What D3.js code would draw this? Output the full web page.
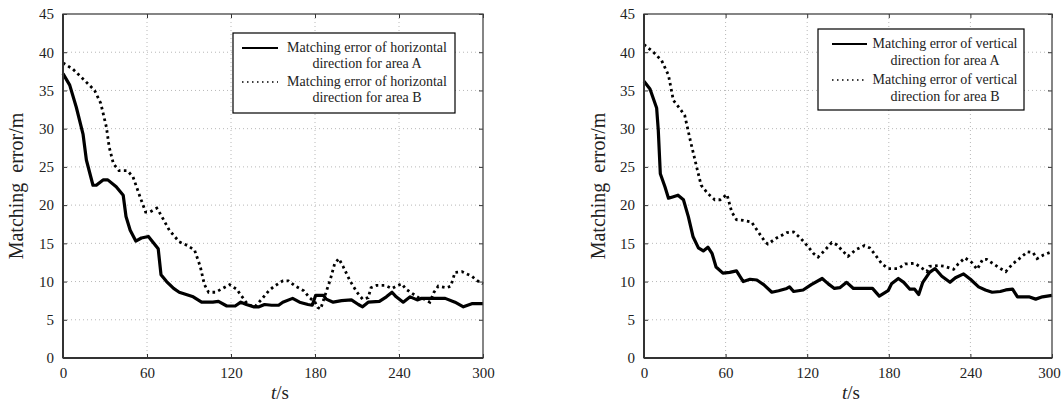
<!DOCTYPE html>
<html>
<head>
<meta charset="utf-8">
<script src="https://cdn.jsdelivr.net/npm/d3@7"></script>
<style>
  body { margin: 0; background: #fff; }
  svg text { font-family: "Liberation Serif", "Times New Roman", Times, serif; fill: #222; }
</style>
</head>
<body>
<div id="chart"></div>
<script>
// tick labels
var xTicks = [0, 60, 120, 180, 240, 300];
var yTicks = [0, 5, 10, 15, 20, 25, 30, 35, 40, 45];

// horizontal error, area A (solid) [t, error]
var horizA = [[0,37.2],[4.8,35.7],[9.5,32.8],[14.3,29.3],[16.7,25.9],[21.4,22.6],[23.8,22.6],[28.6,23.3],[32,23.3],
  [38,22.4],[43,21.3],[45,18.5],[48,16.7],[52,15.3],[56,15.7],[61,15.9],[64,15.2],[68,14.3],[70,10.9],[74,10],
  [79,9.1],[83,8.6],[88,8.3],[93,8.0],[99,7.3],[107,7.3],[111,7.4],[117,6.8],[123,6.8],[127,7.3],[131,7.0],
  [136,6.7],[140,6.7],[144,7.0],[149,6.9],[154,6.9],[157,7.3],[164,7.8],[169,7.3],[175,7.0],[178,6.9],[180.5,8.2],
  [186,8.2],[188,7.7],[193,7.3],[199,7.5],[206,7.6],[211,7.0],[214,6.7],[218,7.3],[226,7.4],[231,8.0],[235,8.6],
  [238,8.0],[243,7.3],[248,8.0],[253,7.6],[256,7.8],[263,7.8],[273,7.8],[280,7.3],[286,6.7],[292,7.1],[300,7.1]];

// horizontal error, area B (dotted)
var horizB = [[0,38.6],[7,37.8],[15.5,36.3],[22.6,35.0],[27,33.3],[31,30.2],[33,27.6],[36,25.4],[40,24.5],[46,24.5],
  [50,23.7],[55,21.1],[59,19.1],[62,19.1],[67,19.6],[70,18.7],[76,16.7],[83,15.2],[89,14.7],[94,14.1],[98,12.0],
  [101,9.6],[104,8.6],[109,8.6],[114,9.1],[119,9.6],[124,9.0],[128,8.0],[132,7.0],[137,6.7],[142,7.7],[147,8.8],
  [151,9.4],[157,10.1],[161,10.1],[166,9.4],[172,8.8],[176,7.9],[180,7.3],[182,6.6],[184,6.4],[187,8.1],[191,10.3],
  [194,12.3],[197,13.0],[200,12.0],[205,10.1],[210,8.6],[214,7.7],[218,7.9],[220,9.2],[224,9.5],[230,9.5],[235,9.1],
  [238,9.4],[242,9.7],[245,9.0],[249,8.5],[254,7.9],[258,7.7],[262,7.3],[265,8.6],[268,9.4],[274,9.2],[277,9.4],
  [280,11.2],[285,11.3],[292,10.7],[296,10.1],[300,9.7]];

// vertical error, area A (solid)
var vertA = [[0,36.2],[4.4,35.2],[9.3,32.7],[10.5,29.8],[12,24.1],[15.4,22.4],[18,20.9],[21.6,21.1],[25,21.3],[29,20.7],
  [32.6,18.5],[36,15.9],[40,14.4],[43.6,14.0],[47,14.5],[50,13.7],[53,11.9],[58,11.1],[63,11.2],[68,11.4],[73,10.0],
  [78,10.3],[83,10.2],[88,9.6],[94,8.6],[99,8.8],[105,9.1],[107,9.3],[110,8.7],[117,8.9],[123,9.6],[131,10.4],
  [135.5,9.7],[140,9.1],[144,9.2],[149,9.9],[154,9.1],[160,9.1],[168,9.1],[173,8.1],[179.5,8.8],[182,9.7],[187,10.4],
  [191,9.9],[195.5,9.0],[199,9.0],[202,8.3],[205,9.9],[210,11.2],[214,11.7],[219,10.7],[225,9.9],[229,10.5],[235,11.0],
  [240,10.3],[246,9.3],[251,8.9],[256,8.6],[262,8.7],[266,8.9],[271,9.0],[274.6,8.0],[283,8.0],[288,7.7],[293,8.0],[300,8.2]];

// vertical error, area B (dotted)
var vertB = [[0,41.0],[7,40.0],[13,38.9],[18,37.0],[21.6,33.7],[26.5,32.6],[30,31.7],[34,28.5],[38.7,25.0],[42,22.6],
  [47,21.5],[52,20.7],[56,20.7],[61,21.4],[64.5,19.1],[68,18.1],[73,18.0],[79,17.8],[84,16.5],[89,15.2],[91,14.9],
  [97.5,15.7],[105,16.4],[110,16.5],[115,15.7],[120,14.7],[124.5,13.7],[128,13.2],[133,14.1],[138,15.1],[142,14.8],
  [145,14.2],[150,13.3],[156,14.2],[162,14.7],[166,14.4],[170,13.5],[175,12.3],[179.5,11.7],[187,11.7],[192,12.3],
  [199,12.4],[204,11.8],[208,11.3],[210,12.0],[216.5,12.1],[221,12.0],[227.6,11.6],[231,12.3],[236,13.1],[241,12.5],
  [245,11.6],[249,12.9],[252,12.9],[257,12.3],[262,11.7],[266,11.3],[271,12.3],[276,13.0],[282,13.9],[286,13.8],
  [289,13.0],[294,13.5],[300,13.9]];

var svg = d3.select("#chart").append("svg")
  .attr("width", 1062)
  .attr("height", 403);

// draw one panel
function drawPanel(p) {
  var x = d3.scaleLinear().domain([0, 300]).range([p.left, p.right]);
  var y = d3.scaleLinear().domain([0, 45]).range([p.bottom, p.top]);
  var g = svg.append("g");

  // dotted grid
  g.selectAll(".gx").data(xTicks.slice(1, -1)).enter().append("line")
    .attr("x1", d => x(d)).attr("x2", d => x(d))
    .attr("y1", p.top).attr("y2", p.bottom)
    .attr("stroke", "#b8b8b8").attr("stroke-width", 1).attr("stroke-dasharray", "1,3");
  g.selectAll(".gy").data(yTicks.slice(1, -1)).enter().append("line")
    .attr("x1", p.left).attr("x2", p.right)
    .attr("y1", d => y(d)).attr("y2", d => y(d))
    .attr("stroke", "#b8b8b8").attr("stroke-width", 1).attr("stroke-dasharray", "1,3");

  // lines
  var line = d3.line().x(d => x(d[0])).y(d => y(d[1])).curve(d3.curveLinear);
  g.append("path").datum(p.b).attr("d", line)
    .attr("fill", "none").attr("stroke", "#000").attr("stroke-width", 2.8)
    .attr("stroke-dasharray", "2.6,3.4");
  g.append("path").datum(p.a).attr("d", line)
    .attr("fill", "none").attr("stroke", "#000").attr("stroke-width", 3.2)
    .attr("stroke-linejoin", "round");

  // axes, ticks pointing inward
  var bottom = g.append("g").attr("transform", "translate(0," + p.bottom + ")")
    .call(d3.axisBottom(x).tickValues(xTicks).tickSizeInner(-4).tickSizeOuter(0).tickPadding(9));
  var left = g.append("g").attr("transform", "translate(" + p.left + ",0)")
    .call(d3.axisLeft(y).tickValues(yTicks).tickSizeInner(-4).tickSizeOuter(0).tickPadding(9));
  var top = g.append("g").attr("transform", "translate(0," + p.top + ")")
    .call(d3.axisTop(x).tickValues(xTicks).tickSizeInner(-4).tickSizeOuter(0).tickFormat(""));
  var right = g.append("g").attr("transform", "translate(" + p.right + ",0)")
    .call(d3.axisRight(y).tickValues(yTicks).tickSizeInner(-4).tickSizeOuter(0).tickFormat(""));
  [bottom, left, top, right].forEach(function(a) {
    a.select(".domain").remove();
    a.selectAll("line").attr("stroke", "#333").attr("stroke-width", 1);
    a.selectAll("text").attr("font-size", 15).attr("fill", "#222");
  });
  // keep the last x label inside the page
  if (p.lastLabelShift) {
    bottom.selectAll(".tick text").filter(d => d === 300).attr("dx", p.lastLabelShift);
  }

  // frame
  g.append("rect")
    .attr("x", p.left).attr("y", p.top)
    .attr("width", p.right - p.left).attr("height", p.bottom - p.top)
    .attr("fill", "none").attr("stroke", "#444").attr("stroke-width", 1.3);
  g.append("line").attr("x1", p.left).attr("x2", p.right).attr("y1", p.bottom).attr("y2", p.bottom)
    .attr("stroke", "#333").attr("stroke-width", 2);
  g.append("line").attr("x1", p.left).attr("x2", p.left).attr("y1", p.top).attr("y2", p.bottom)
    .attr("stroke", "#333").attr("stroke-width", 2);

  // axis titles
  g.append("text")
    .attr("transform", "translate(" + p.yLabelX + "," + ((p.top + p.bottom) / 2) + ") rotate(-90)")
    .attr("text-anchor", "middle").attr("font-size", 20)
    .style("white-space", "pre")
    .text("Matching  error/m");
  var xt = g.append("text")
    .attr("x", p.xLabelX).attr("y", 399)
    .attr("text-anchor", "middle").attr("font-size", 19);
  xt.append("tspan").attr("font-style", "italic").text("t");
  xt.append("tspan").text("/s");

  // legend
  var L = p.legend;
  g.append("rect")
    .attr("x", L.x).attr("y", L.y).attr("width", L.w).attr("height", L.h)
    .attr("fill", "#fff").attr("stroke", "#000").attr("stroke-width", 1.2);
  var rows = [
    {dash: null, lines: L.textA},
    {dash: "1.5,3.5", lines: L.textB}
  ];
  rows.forEach(function(r, i) {
    var ly = L.y + L.rowY[i * 2];
    g.append("line")
      .attr("x1", L.x + L.lineX0).attr("x2", L.x + L.lineX1)
      .attr("y1", ly - 4).attr("y2", ly - 4)
      .attr("stroke", "#000").attr("stroke-width", r.dash ? 1.4 : 2.2)
      .attr("stroke-dasharray", r.dash);
    r.lines.forEach(function(t, j) {
      g.append("text")
        .attr("x", L.x + L.textC).attr("y", L.y + L.rowY[i * 2 + j])
        .attr("text-anchor", "middle").attr("font-size", 14)
        .text(t);
    });
  });
}

drawPanel({
  left: 63, right: 483, top: 14, bottom: 358,
  yLabelX: 23, xLabelX: 280,
  a: horizA, b: horizB,
  legend: {
    x: 233, y: 33, w: 222, h: 80,
    lineX0: 9, lineX1: 45, textC: 134,
    rowY: [19, 35, 53, 69],
    textA: ["Matching error of horizontal", "direction for area A"],
    textB: ["Matching error of horizontal", "direction for area B"]
  }
});

drawPanel({
  left: 644, right: 1052, top: 14, bottom: 358,
  yLabelX: 605, xLabelX: 851, lastLabelShift: -3,
  a: vertA, b: vertB,
  legend: {
    x: 818, y: 29, w: 206, h: 81,
    lineX0: 14, lineX1: 49, textC: 127,
    rowY: [19, 36, 55, 72],
    textA: ["Matching error of vertical", "direction for area A"],
    textB: ["Matching error of vertical", "direction for area B"]
  }
});
</script>
</body>
</html>
